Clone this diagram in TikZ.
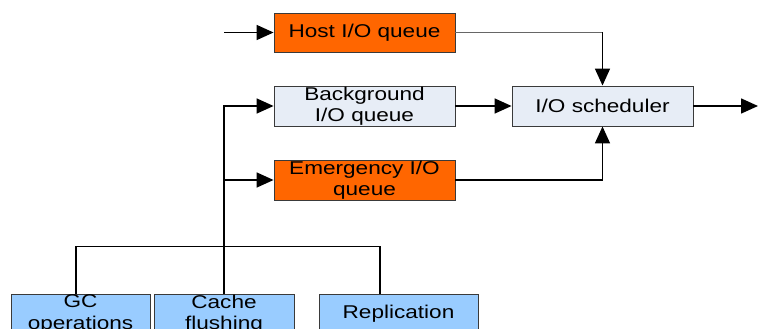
\documentclass[tikz,border=0pt]{standalone}
\usepackage{fontspec}
\setmainfont{Liberation Sans}[FakeStretch=1.22]
\usetikzlibrary{arrows.meta}
\definecolor{orng}{HTML}{FF6600}
\definecolor{pale}{HTML}{E7EDF6}
\definecolor{sky}{HTML}{99CCFF}
\definecolor{edge}{HTML}{3A3A3A}
\tikzset{
  box/.style={draw=edge, line width=0.9pt, minimum height=40pt, inner sep=0pt, align=center,
    font=\fontsize{18.5}{21.5}\selectfont},
  hot/.style={box, fill=orng},
  calm/.style={box, fill=pale},
  src/.style={box, fill=sky},
  wire/.style={line width=1.6pt, black},
  arr/.style={wire, -{Triangle[length=17pt,width=15pt]}},
  thinwire/.style={line width=0.8pt, gray!80!black}
}
\begin{document}
\begin{tikzpicture}[x=1pt,y=-1pt]
\useasboundingbox (0,0) rectangle (758,329);
\clip (0,0) rectangle (758,329);
\node[hot, minimum width=181pt, minimum height=39pt] (host) at (364.5,32.5) {Host I/O queue};
\node[calm, minimum width=181pt] (bg) at (364.5,106) {Background\\I/O queue};
\node[hot, minimum width=181pt] (emg) at (364.5,180) {Emergency I/O\\queue};
\node[calm, minimum width=181pt] (sched) at (602.5,106) {I/O scheduler};
\node[src, minimum width=139pt] (gc) at (80.5,314) {GC\\operations};
\node[src, minimum width=140pt] (cache) at (224,314) {Cache\\flushing};
\node[src, minimum width=159pt] (rep) at (398.5,314) {Replication};
\coordinate (in) at (224,32.5);
\coordinate (out) at (758,106);
\coordinate (bend) at (host.east -| sched.north);
\draw[arr] (in) -- (host);
\draw[thinwire] (host.east) -- (bend);
\draw[arr] (bend) -- (sched.north);
\draw[arr] (bg) -- (sched);
\draw[arr] (emg.east) -| (sched.south);
\draw[arr] (sched) -- (out);
\draw[arr] (cache.north) |- (bg.west);
\draw[arr] (cache.north |- emg.west) -- (emg.west);
\draw[wire] ([xshift=-4.5pt]gc.north) -- ++(0,-47) -| ([xshift=-18.5pt]rep.north);
\end{tikzpicture}
\end{document}
